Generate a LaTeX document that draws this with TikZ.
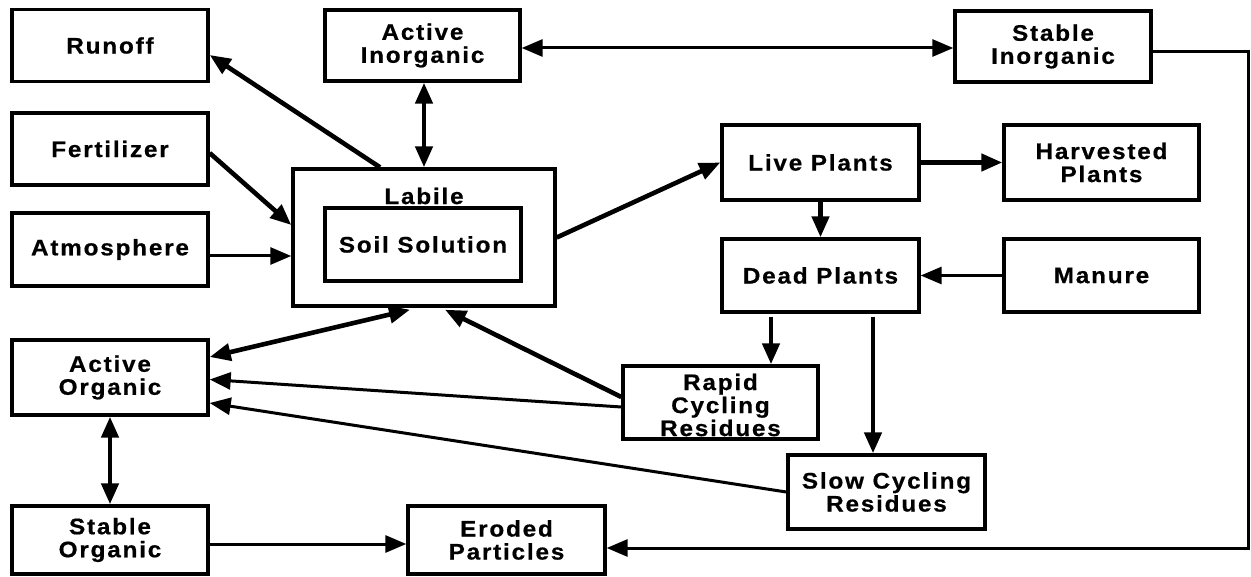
\documentclass[tikz,border=0pt]{standalone}
\usepackage{fontspec}
\newfontfamily\boxfont{Liberation Sans}[FakeStretch=1.08,LetterSpace=8,FakeBold=0.6]
\usetikzlibrary{arrows.meta,calc}
\tikzset{
  box/.style={draw, line width=3.4pt, inner sep=0pt, align=center,
    font={\boxfont\bfseries\fontsize{22.5pt}{23pt}\selectfont},
    minimum width=196pt, minimum height=72pt},
  txt/.style={inner sep=0pt, align=center,
    font={\boxfont\bfseries\fontsize{22.5pt}{23pt}\selectfont}},
  >={Triangle[length=21pt,width=17pt]},
  flow/.style={line width=4.6pt},
  flowthin/.style={line width=3pt},
}
\begin{document}
\begin{tikzpicture}[x=1pt,y=-1pt]
\useasboundingbox (0,0) rectangle (1251,577);
% boxes
\node[box] (runoff) at (110,45.5) {Runoff};
\node[box, minimum height=72pt] (fert) at (110,149) {Fertilizer};
\node[box, minimum height=73pt] (atmo) at (110,249.5) {Atmosphere};
\node[box, minimum width=195pt, minimum height=71pt] (actinorg) at (422.5,45.5) {Active\\Inorganic};
\node[box, minimum width=262pt, minimum height=137pt] (labile) at (424,237.5) {};
\node[txt] (labiletxt) at (424,196) {Labile};
\node[box, minimum width=196pt, minimum height=73pt] (soil) at (423,244.5) {Soil Solution};
\node[box, minimum height=71pt] (stabinorg) at (1053,46.5) {Stable\\Inorganic};
\node[box, minimum width=197pt, minimum height=75pt] (live) at (820.5,162.5) {Live Plants};
\node[box, minimum width=195pt, minimum height=75pt] (harv) at (1101.5,162.5) {Harvested\\Plants};
\node[box, minimum width=197pt, minimum height=73pt] (dead) at (820.5,275.5) {Dead Plants};
\node[box, minimum width=195pt, minimum height=73pt] (manure) at (1101.5,275.5) {Manure};
\node[box, minimum height=75pt] (actorg) at (110,377.5) {Active\\Organic};
\node[box, minimum height=68pt] (staborg) at (110,540) {Stable\\Organic};
\node[box, minimum width=197pt, minimum height=68pt] (eroded) at (506.5,540) {Eroded\\Particles};
\node[box, minimum width=195pt, minimum height=73pt] (rapid) at (720.5,402.5) {};
\node[txt] (rapidtxt) at (720.5,405) {Rapid\\Cycling\\Residues};
\node[box, minimum width=197pt, minimum height=74pt] (slow) at (886.5,492) {Slow Cycling\\Residues};
\coordinate (rail) at (1248,300);
% connectors
\draw[flow,->] ([xshift=-44pt]labile.north) -- ([yshift=-9.5pt]runoff.east);
\draw[flow,->] ([yshift=-4pt]fert.east) -- ([yshift=12.5pt]labile.west);
\draw[flowthin,->] ([yshift=-6.5pt]atmo.east) -- ([yshift=-6.5pt]atmo.east -| labile.west);
\draw[flow,<->] (labile.north |- actinorg.south) -- (labile.north);
\draw[flowthin,<->] ([yshift=-2.5pt]actinorg.east) -- ([yshift=-2.5pt]actinorg.east -| stabinorg.west);
\draw[flow,->] (labile.east) -- (live.west);
\draw[flow,->] (live.east) -- (harv.west);
\draw[flow,->] (live.south) -- (dead.north);
\draw[flowthin,->] (manure.west) -- (dead.east);
\draw[flowthin,->] ([yshift=-5.5pt]stabinorg.east) -| (rail) |- ([yshift=-8pt]eroded.east);
\draw[flow,->,shorten <=3pt] ([xshift=-49.5pt]dead.south) -- ([xshift=-49.5pt]dead.south |- rapid.north);
\draw[flow,->,shorten <=3pt] ([xshift=52.5pt]dead.south) -- ([xshift=52.5pt]dead.south |- slow.north);
\draw[flow,<->] ([xshift=-14pt,yshift=-2pt]labile.south) -- ([yshift=20.5pt]actorg.east);
\draw[flow,->] ([yshift=5.5pt]rapid.west) -- ([xshift=21pt,yshift=-2pt]labile.south);
\draw[flowthin,->] ([yshift=-4.5pt]rapid.west) -- ([yshift=-2pt]actorg.east);
\draw[flowthin,->] (slow.west) -- ([yshift=-25.5pt]actorg.east);
\draw[flow,<->] (actorg.south) -- (staborg.north);
\draw[flowthin,->] ([yshift=-4pt]staborg.east) -- ([yshift=-4pt]eroded.west);
\end{tikzpicture}
\end{document}
